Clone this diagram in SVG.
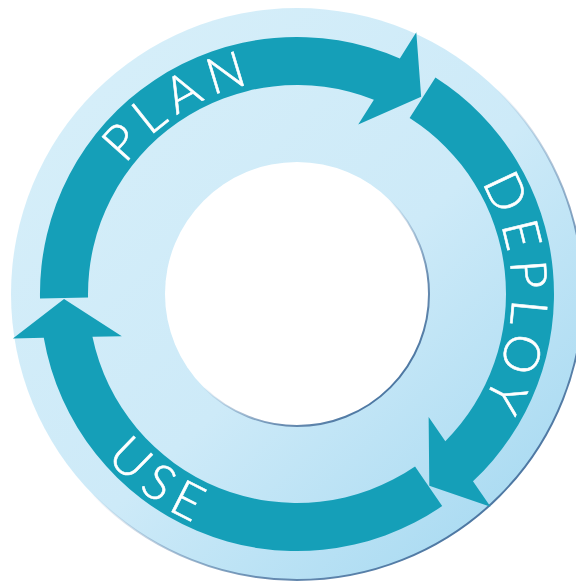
<svg xmlns="http://www.w3.org/2000/svg" width="576" height="584" viewBox="0 0 576 584">
  <defs>
    <linearGradient id="ringFill" x1="0.15" y1="0.15" x2="0.9" y2="0.95">
      <stop offset="0" stop-color="#d5eef9"/>
      <stop offset="0.5" stop-color="#cdeaf8"/>
      <stop offset="1" stop-color="#a6d9f1"/>
    </linearGradient>
    <linearGradient id="edge" x1="0.2" y1="0.2" x2="0.85" y2="0.85">
      <stop offset="0.45" stop-color="#5a80a8" stop-opacity="0"/>
      <stop offset="0.8" stop-color="#5a80a8" stop-opacity="0.9"/>
      <stop offset="1" stop-color="#4e78a3" stop-opacity="1"/>
    </linearGradient>
    <path id="arrowLong" d="M -140.7 -215.1 A 257 257 0 0 1 254.1 -38.5 L 285 -38.5 L 233 0 L 176 -38.5 L 205.4 -38.5 A 209 209 0 0 0 -114.4 -174.9 Z"/>
    <path id="arrowShort" d="M -99.6 -236.9 A 257 257 0 0 1 254.1 -38.5 L 285 -38.5 L 233 0 L 176 -38.5 L 205.4 -38.5 A 209 209 0 0 0 -81.0 -192.7 Z"/>
    <path id="planPath" d="M 82 294 A 215 215 0 0 1 392.3 101.3"/>
    <path id="deployPath" d="M 414.1 113.7 A 215 215 0 0 1 410.9 476.3"/>
    <path id="usePath" d="M 46 294 A 251 251 0 0 0 374.6 532.7"/>
  </defs>
  <style>
    .arrow { fill: #159fb8; }
    .label { fill: #ffffff; stroke: #ffffff; stroke-width: 0.6px; font-family: Lato, "Open Sans", "DejaVu Sans", sans-serif; font-weight: 300; font-size: 50px; letter-spacing: 8.5px; }
  </style>
  <g id="ring">
    <circle cx="297" cy="294" r="286" fill="url(#ringFill)" stroke="url(#edge)" stroke-width="2"/>
    <circle cx="297" cy="294" r="132" fill="#ffffff" stroke="url(#edge)" stroke-width="2"/>
  </g>
  <g id="connectors">
    <use href="#arrowLong" class="arrow" transform="translate(297 294) rotate(-57.8)"/>
    <use href="#arrowShort" class="arrow" transform="translate(297 294) rotate(55.4)"/>
    <use href="#arrowLong" class="arrow" transform="translate(297 294) rotate(178.8)"/>
  </g>
  <g id="plan">
    <text class="label"><textPath href="#planPath" startOffset="50%" text-anchor="middle">PLAN</textPath></text>
  </g>
  <g id="deploy">
    <text class="label"><textPath href="#deployPath" startOffset="50%" text-anchor="middle">DEPLOY</textPath></text>
  </g>
  <g id="use">
    <text class="label"><textPath href="#usePath" startOffset="50%" text-anchor="middle">USE</textPath></text>
  </g>
</svg>
